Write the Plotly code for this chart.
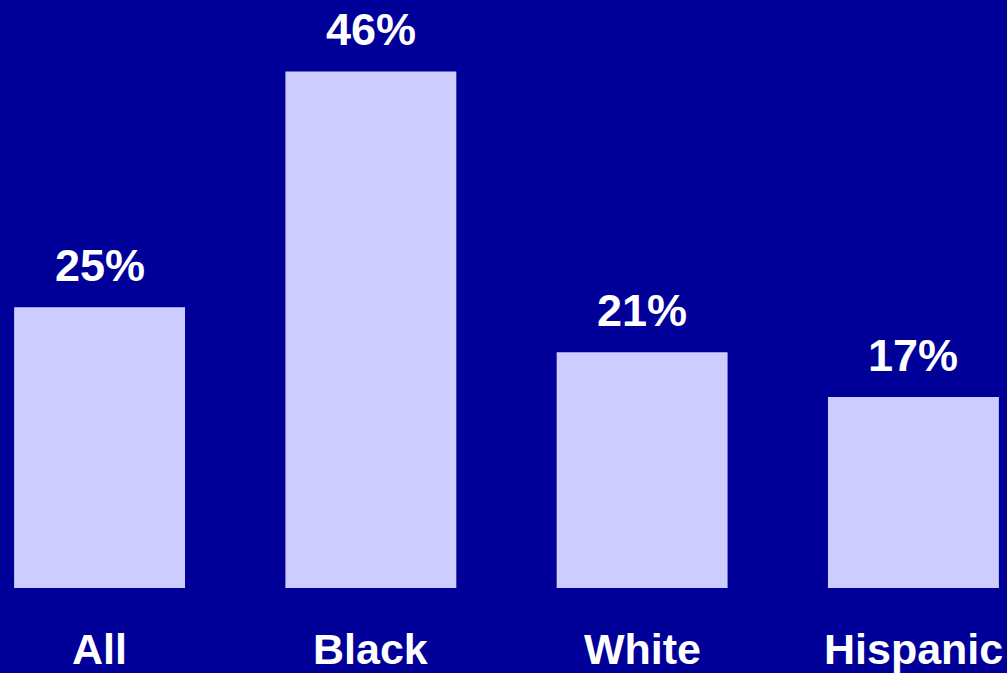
import plotly.graph_objects as go

categories = ["All", "Black", "White", "Hispanic"]
values = [25, 46, 21, 17]
value_labels = ["25%", "46%", "21%", "17%"]

BG = "#000099"
BAR = "#CCCCFF"
FONT = "Liberation Sans, Arial, sans-serif"

xpos = list(range(len(categories)))

fig = go.Figure()
fig.add_trace(go.Bar(
    x=xpos, y=values, width=0.63,
    marker=dict(color=BAR, line=dict(width=0)),
    hoverinfo="skip",
))

for x, v, t in zip(xpos, values, value_labels):
    fig.add_annotation(x=x, y=v, text="<b>%s</b>" % t, showarrow=False,
                       xanchor="center", yanchor="middle", yshift=42,
                       font=dict(family=FONT, size=45, color="white"))

for x, c in zip(xpos, categories):
    fig.add_annotation(x=x, y=0, text="<b>%s</b>" % c, showarrow=False,
                       xanchor="center", yanchor="middle", yshift=-61,
                       font=dict(family=FONT, size=43, color="white"))

fig.update_layout(
    width=1007, height=673,
    margin=dict(l=0, r=0, t=0, b=0),
    paper_bgcolor=BG, plot_bgcolor=BG,
    showlegend=False,
    xaxis=dict(range=[-0.367, 3.345], visible=False, fixedrange=True),
    yaxis=dict(range=[-7.57, 52.36], visible=False, fixedrange=True),
)

fig.write_html(
    "out.html",
    config={"displayModeBar": False},
    post_script="document.body.style.margin='0';document.body.style.overflow='hidden';document.body.style.background='#000099';",
)
